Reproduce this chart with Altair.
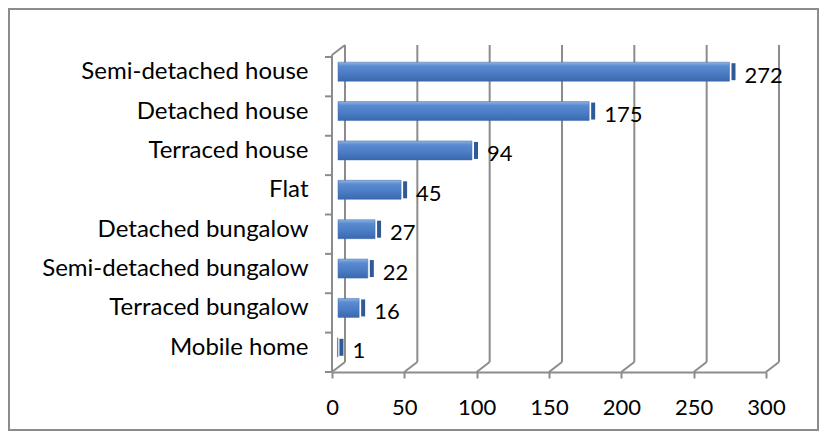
import altair as alt
import pandas as pd

categories = ["Semi-detached house", "Detached house", "Terraced house", "Flat",
              "Detached bungalow", "Semi-detached bungalow", "Terraced bungalow", "Mobile home"]
values = [272, 175, 94, 45, 27, 22, 16, 1]
x_ticks = [0, 50, 100, 150, 200, 250, 300]

W, H = 434, 315
PL, PT, PR, PB = 324, 49, 53, 59
DX, DY = 13, -10
FONT = "Lato"
GRID = "#8c8c8c"

df = pd.DataFrame({"cat": categories, "val": values})
ticks_df = pd.DataFrame({"t": x_ticks})
band_edges = pd.DataFrame({"b": [i * H / len(categories) for i in range(len(categories) + 1)]})

xs = alt.Scale(domain=[0, 300], nice=False, zero=True)
ys = alt.Scale(domain=categories, paddingInner=0.5, paddingOuter=0.25)
XAX = alt.Axis(values=x_ticks, title=None, domainColor=GRID, domainWidth=2, tickColor=GRID,
               tickWidth=2, tickSize=6, labelFont=FONT, labelFontSize=22, labelColor="black",
               labelPadding=19, labelFlush=False, labelOverlap=False, grid=False)

def X(field):
    return alt.X(field, scale=xs, axis=XAX)

# back wall gridlines
grid = alt.Chart(ticks_df).mark_rule(color=GRID, strokeWidth=2, xOffset=DX, x2Offset=DX).encode(
    x=X("t:Q"),
    y=alt.value(DY - 2), y2=alt.value(H + DY),
)
# floor diagonals
diag = alt.Chart(ticks_df).mark_rule(color=GRID, strokeWidth=2, x2Offset=DX).encode(
    x=X("t:Q"), x2="t:Q",
    y=alt.value(H), y2=alt.value(H + DY),
)
# left wall top diagonal and front vertical line
left_top = alt.Chart(ticks_df.head(1)).mark_rule(color=GRID, strokeWidth=2).encode(
    x=alt.value(0), x2=alt.value(DX), y=alt.value(-2), y2=alt.value(DY - 2),
)
left_front = alt.Chart(ticks_df.head(1)).mark_rule(color=GRID, strokeWidth=2).encode(
    x=alt.value(0), y=alt.value(-2), y2=alt.value(H),
)
# left axis ticks at category boundaries
left_ticks = alt.Chart(band_edges).mark_rule(color=GRID, strokeWidth=2).encode(
    x=alt.value(-7), x2=alt.value(0),
    y=alt.Y("b:Q", scale=alt.Scale(domain=[0, H], range=[0, H]), axis=None),
)
# outer border
border = alt.Chart(ticks_df.head(1)).mark_rect(filled=False, stroke="#8c8c8c", strokeWidth=2).encode(
    x=alt.value(-PL + 1), x2=alt.value(W + PR - 1),
    y=alt.value(-PT + 1), y2=alt.value(H + PB - 1),
)

grad = alt.Gradient(
    gradient="linear", x1=0, x2=0, y1=0, y2=1,
    stops=[alt.GradientStop(color="#8fb4e3", offset=0),
           alt.GradientStop(color="#5b8bd1", offset=0.2),
           alt.GradientStop(color="#4a7cc4", offset=0.6),
           alt.GradientStop(color="#3a68ad", offset=1)],
)
bars = alt.Chart(df).mark_bar(fill=grad, yOffset=-5, xOffset=4, x2Offset=6, size=19,
                              stroke="#3d6aa8", strokeWidth=0.5).encode(
    x=X("val:Q"),
    x2=alt.value(0),
    y=alt.Y("cat:N", scale=ys, sort=categories, axis=None),
)
caps = alt.Chart(df).mark_bar(color="#2f5a96", yOffset=-5, xOffset=6, x2Offset=10, size=17).encode(
    x=X("val:Q"), x2="val:Q",
    y=alt.Y("cat:N", scale=ys, sort=categories, axis=None),
)
labels = alt.Chart(df).mark_text(align="left", baseline="middle", dx=19, dy=-1,
                                 font=FONT, fontSize=22, color="black").encode(
    x=X("val:Q"),
    y=alt.Y("cat:N", scale=ys, sort=categories, axis=None),
    text="val:Q",
)
yaxis = alt.Chart(df).mark_point(opacity=0).encode(
    y=alt.Y("cat:N", scale=ys, sort=categories, axis=alt.Axis(
        title=None, domain=False, ticks=False, labelFont=FONT, labelFontSize=24,
        labelColor="black", labelPadding=24, labelOffset=-5, grid=False, labelLimit=400)),
)

chart = alt.layer(border, grid, diag, left_top, left_front, left_ticks, yaxis,
                  bars, caps, labels).properties(
    width=W, height=H,
    autosize=alt.AutoSizeParams(type="none"),
    padding={"left": PL, "top": PT, "right": PR, "bottom": PB},
).configure_view(stroke=None).resolve_scale(y="independent")

chart.save("out.html", embed_options={"renderer": "svg", "actions": False})
